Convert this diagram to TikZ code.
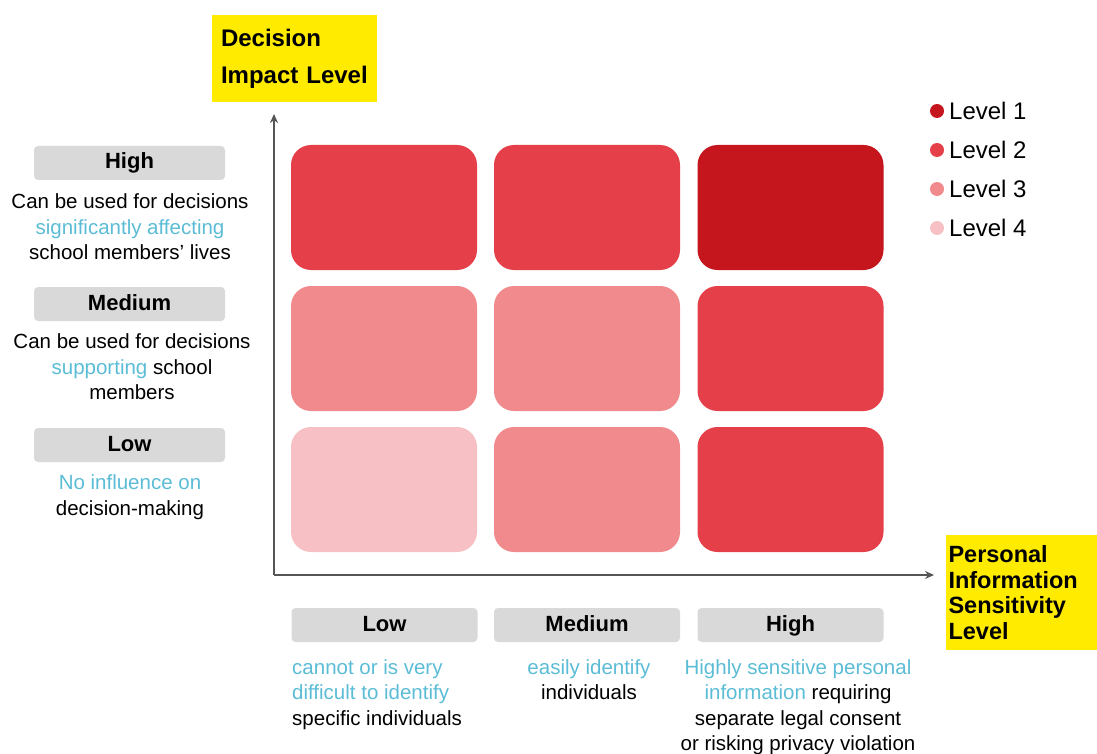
\documentclass[tikz,border=0pt]{standalone}
\usepackage{fontspec}
\setmainfont{Liberation Sans}
\usetikzlibrary{arrows.meta}
\definecolor{lvA}{HTML}{C4161C}
\definecolor{lvB}{HTML}{E5404A}
\definecolor{lvC}{HTML}{F08A8C}
\definecolor{lvD}{HTML}{F6C0C5}
\definecolor{hiblue}{HTML}{5BBCD6}
\definecolor{graybox}{HTML}{D9D9D9}
\definecolor{axisgray}{HTML}{555555}
\definecolor{yel}{HTML}{FFEB00}
\newcommand{\hb}[1]{\textcolor{hiblue}{#1}}
\tikzset{
  cell/.style={rounded corners=20pt, minimum width=186pt, minimum height=125pt, inner sep=0pt, draw=none},
  tag/.style={fill=graybox, rounded corners=4pt, minimum width=191pt, minimum height=34pt, inner sep=0pt, text height=16pt, text depth=4pt, font=\fontsize{22}{26}\selectfont\bfseries},
  btag/.style={tag, minimum width=186pt},
  desc/.style={inner sep=0pt, align=center, font=\fontsize{20.5}{25.5}\selectfont},
  ytitle/.style={fill=yel, inner sep=0pt, font=\fontsize{24}{26}\selectfont\bfseries, align=left},
  legdot/.style={circle, minimum size=14pt, inner sep=0pt},
  legtext/.style={anchor=west, inner sep=0pt, font=\fontsize{24}{26}\selectfont},
  axis/.style={draw=axisgray, line width=1.8pt, -{Stealth[length=9pt,width=8pt]}}
}
\begin{document}
\begin{tikzpicture}[x=1pt,y=-1pt]
\useasboundingbox (0,0) rectangle (1097,754);
% y-axis title
\node[ytitle, minimum width=165pt, minimum height=87pt, text width=147pt] (ytitle) at (294.5,58.5) {Decision\\[11pt]Impact Level};
% axes
\coordinate (origin) at (274,575);
\coordinate (ytop) at (274,114);
\coordinate (xend) at (934,575);
\draw[axis] (origin) -- (ytop);
\draw[axis] (origin) -- (xend);
% cells
\node[cell, fill=lvB] (c11) at (384,207.5) {};
\node[cell, fill=lvB] (c12) at (587,207.5) {};
\node[cell, fill=lvA] (c13) at (790.5,207.5) {};
\node[cell, fill=lvC] (c21) at (384,348.5) {};
\node[cell, fill=lvC] (c22) at (587,348.5) {};
\node[cell, fill=lvB] (c23) at (790.5,348.5) {};
\node[cell, fill=lvD] (c31) at (384,489.5) {};
\node[cell, fill=lvC] (c32) at (587,489.5) {};
\node[cell, fill=lvB] (c33) at (790.5,489.5) {};
% legend
\node[legdot, fill=lvA] (d1) at (937,111) {};
\node[legtext] (l1) at (949,111) {Level 1};
\node[legdot, fill=lvB] (d2) at (937,150) {};
\node[legtext] (l2) at (949,150) {Level 2};
\node[legdot, fill=lvC] (d3) at (937,189) {};
\node[legtext] (l3) at (949,189) {Level 3};
\node[legdot, fill=lvD] (d4) at (937,228) {};
\node[legtext] (l4) at (949,228) {Level 4};
% left labels
\node[tag] (yh) at (129.5,163) {High};
\node[desc] (yhd) at (130,227) {Can be used for decisions\\\hb{significantly affecting}\\school members' lives};
\node[tag] (ym) at (129.5,304) {Medium};
\node[desc] (ymd) at (132,367) {Can be used for decisions\\\hb{supporting} school\\members};
\node[tag] (yl) at (129.5,445) {Low};
\node[desc] (yld) at (130,497) {\hb{No influence on}\\decision-making};
% bottom labels
\node[btag] (xl) at (384.5,625) {Low};
\node[desc, align=left, anchor=north west] (xld) at (292,659) {\hb{cannot or is very}\\\hb{difficult to identify}\\specific individuals};
\node[btag] (xm) at (587,625) {Medium};
\node[desc, anchor=north] (xmd) at (589,659) {\hb{easily identify}\\individuals};
\node[btag] (xh) at (790.5,625) {High};
\node[desc, anchor=north] (xhd) at (798,659) {\hb{Highly sensitive personal}\\\hb{information} requiring\\separate legal consent\\or risking privacy violation};
% x-axis title
\node[ytitle, minimum width=151pt, minimum height=115pt, text width=146pt, font=\fontsize{23.5}{25.5}\selectfont\bfseries] (xtitle) at (1021.5,592.5) {Personal\\Information\\Sensitivity\\Level};
\end{tikzpicture}
\end{document}
